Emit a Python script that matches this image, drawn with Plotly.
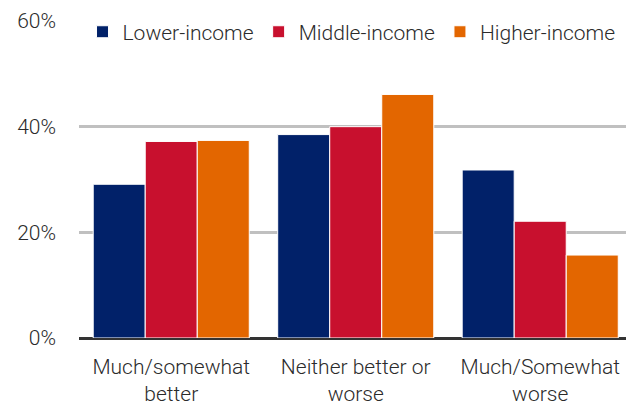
import plotly.graph_objects as go

categories = ["Much/somewhat<br>better", "Neither better or<br>worse", "Much/Somewhat<br>worse"]
series_names = ["Lower-income", "Middle-income", "Higher-income"]
lower = [29.1, 38.5, 31.8]
middle = [37.2, 40.0, 22.1]
higher = [37.4, 46.1, 15.7]
colors = ["#012169", "#C8102E", "#E36600"]
y_ticks = [0, 20, 40, 60]
y_tick_text = ["0%", "20%", "40%", "60%"]

FONT = "Roboto, sans-serif"

fig = go.Figure()
for name, vals, col in zip(series_names, [lower, middle, higher], colors):
    fig.add_trace(go.Bar(x=categories, y=vals, name=name,
                         marker=dict(color=col, line=dict(color="white", width=1))))

fig.update_layout(
    width=626, height=406,
    margin=dict(l=79, r=0, t=21, b=68),
    paper_bgcolor="white", plot_bgcolor="white",
    barmode="group", bargap=0.154, bargroupgap=0.0,
    font=dict(family=FONT, size=21, color="#2b2b2b", weight=300),
    showlegend=True,
    legend=dict(orientation="h", x=0.99, xanchor="right", y=0.965, yanchor="middle",
                font=dict(size=21, color="#2b2b2b", weight=300), bgcolor="rgba(0,0,0,0)",
                itemwidth=30, traceorder="normal"),
    xaxis=dict(showgrid=False, ticks="", tickfont=dict(size=21, weight=300), showline=False,
               range=[-0.5, 2.465], ticklabelstandoff=14),
    yaxis=dict(range=[0, 60], tickvals=y_ticks, ticktext=y_tick_text, showgrid=True,
               gridcolor="#C0C0C0", gridwidth=2.5, zeroline=True, zerolinecolor="#333333",
               zerolinewidth=2.5, tickfont=dict(size=21, weight=300), ticklabelstandoff=22,
               showline=False),
)
fig.write_html("out.html")
